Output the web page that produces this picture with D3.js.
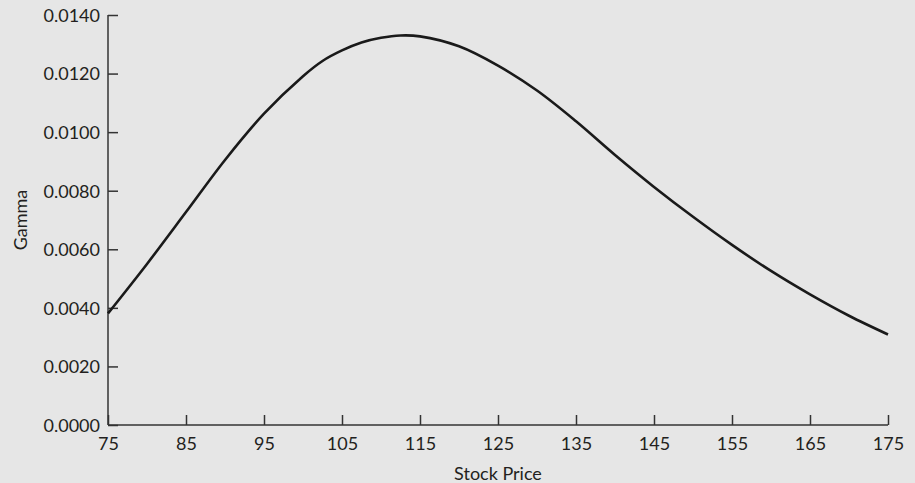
<!DOCTYPE html>
<html>
<head>
<meta charset="utf-8">
<script src="https://cdn.jsdelivr.net/npm/d3@7"></script>
<style>
  html, body { margin: 0; padding: 0; background: #e6e6e6; }
  svg { display: block; }
  text { font-family: Lato, "Open Sans", sans-serif; fill: #231f20; }
</style>
</head>
<body>
<svg id="chart" width="915" height="483"></svg>
<script>
// Data
const stockPrice = [75, 80, 85, 90, 95, 100, 102.5, 105, 107.5, 110, 112.5, 115, 120, 125, 130, 135, 140, 145, 150, 155, 160, 165, 170, 175];
const gamma = [0.00381, 0.00550, 0.00727, 0.00905, 0.01063, 0.01191, 0.01243, 0.01279, 0.01306, 0.01322, 0.01330, 0.01327, 0.01293, 0.01227, 0.01142, 0.01037, 0.00922, 0.00813, 0.00711, 0.00615, 0.00526, 0.00446, 0.00373, 0.00309];
const xTicks = [75, 85, 95, 105, 115, 125, 135, 145, 155, 165, 175];
const yTicks = [0, 0.002, 0.004, 0.006, 0.008, 0.010, 0.012, 0.014];
const xTitle = "Stock Price";
const yTitle = "Gamma";

const svg = d3.select("#chart");
const margin = { left: 108, right: 27, top: 15, bottom: 58 };
const W = 915, H = 483;

const x = d3.scaleLinear().domain([75, 175]).range([margin.left, W - margin.right]);
const y = d3.scaleLinear().domain([0, 0.014]).range([H - margin.bottom, margin.top]);

const axisColor = "#333";

// Y axis
const yAxis = svg.append("g")
  .attr("transform", `translate(${margin.left},0)`)
  .call(d3.axisRight(y).tickValues(yTicks).tickSize(10).tickFormat(d3.format(".4f")));
yAxis.select(".domain").attr("d", `M0,${y(0)}V${y(0.014)}`).attr("stroke", axisColor).attr("stroke-width", 1.5);
yAxis.selectAll(".tick line").attr("stroke", axisColor).attr("stroke-width", 1.5);
yAxis.selectAll(".tick text")
  .attr("x", -8).attr("dy", "0.35em")
  .attr("text-anchor", "end")
  .style("font-size", "18px").style("font-family", "Lato, sans-serif").attr("fill", "#231f20");

// X axis
const xAxis = svg.append("g")
  .attr("transform", `translate(0,${y(0)})`)
  .call(d3.axisTop(x).tickValues(xTicks).tickSize(10).tickFormat(d3.format("d")));
xAxis.select(".domain").attr("d", `M${x(75)},0H${x(175)}`).attr("stroke", axisColor).attr("stroke-width", 1.5);
xAxis.selectAll(".tick line").attr("stroke", axisColor).attr("stroke-width", 1.5);
xAxis.selectAll(".tick text")
  .attr("y", 25).attr("dy", 0)
  .attr("text-anchor", "middle")
  .style("font-size", "18px").style("font-family", "Lato, sans-serif").attr("fill", "#231f20");

// Titles
svg.append("text")
  .attr("x", x(125)).attr("y", 480)
  .attr("text-anchor", "middle")
  .style("font-size", "18px")
  .text(xTitle);

svg.append("text")
  .attr("transform", `translate(27,${y(0.007)}) rotate(-90)`)
  .attr("text-anchor", "middle")
  .style("font-size", "18px")
  .text(yTitle);

// Curve
const pts = stockPrice.map((s, i) => [s, gamma[i]]);
const line = d3.line()
  .x(d => x(d[0]))
  .y(d => y(d[1]))
  .curve(d3.curveCatmullRom.alpha(0.5));

svg.append("path")
  .datum(pts)
  .attr("fill", "none")
  .attr("stroke", "#1a1a1a")
  .attr("stroke-width", 2.6)
  .attr("d", line);
</script>
</body>
</html>
